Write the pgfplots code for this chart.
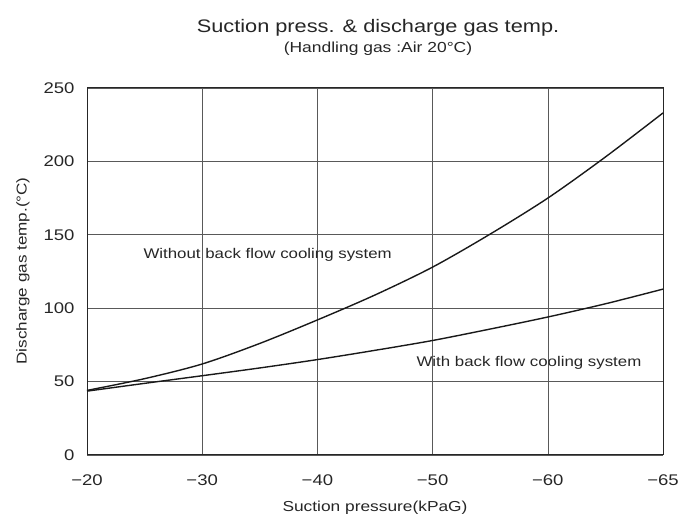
\documentclass[border=0pt]{standalone}
\usepackage{pgfplots}
\pgfplotsset{compat=1.18}
\usepackage{fontspec}
\setmainfont{Liberation Sans}[FakeStretch=1.2]
\begin{document}
\begin{tikzpicture}[x=1bp,y=1bp]
\begin{axis}[
  at={(0,0)}, anchor=south west,
  scale only axis, width=576bp, height=367bp,
  xmin=0, xmax=5, ymin=0, ymax=250,
  xtick={0,1,2,3,4,5},
  xticklabels={−20,−30,−40,−50,−60,−65},
  ytick={0,50,100,150,200,250},
  grid=major,
  major grid style={black!65, line width=0.6pt},
  major tick length=0pt,
  axis line style={black!85, line width=1pt},
  /pgf/number format/assume math mode=true,
  tick label style={font=\fontsize{15.5}{15.5}\selectfont, black!85},
  xticklabel style={yshift=-16bp},
  yticklabel style={xshift=-9bp},
  clip=false,
]
\addplot[black!90, line width=1.4pt, smooth] coordinates {
(0,44) (0.5,52) (1,62) (1.5,76) (2,92) (2.5,109) (3,128) (3.5,150.5) (4,175) (4.5,203) (5,233)
};
\addplot[black!90, line width=1.4pt, smooth] coordinates {
(0,43.5) (0.5,48.8) (1,54) (1.5,59.3) (2,65) (2.5,71.3) (3,78) (3.5,85.8) (4,94) (4.5,103) (5,113)
};
\node[anchor=west, black!85, font=\fontsize{14.1}{14.1}\selectfont] at (axis cs:0.46,136) {Without back flow cooling system};
\node[anchor=west, black!85, font=\fontsize{14.1}{14.1}\selectfont] at (axis cs:2.83,63) {With back flow cooling system};
\end{axis}
\node[black!85, font=\fontsize{18.2}{18.2}\selectfont] at (291,427) {Suction press. \& discharge gas temp.};
\node[black!85, font=\fontsize{14.6}{14.6}\selectfont] at (291,406) {(Handling gas :Air 20\textdegree C)};
\node[black!85, font=\fontsize{14.3}{14.3}\selectfont, rotate=90] at (-64,184) {Discharge gas temp.(\textdegree C)};
\node[black!85, font=\fontsize{14.5}{14.5}\selectfont] at (288,-53) {Suction pressure(kPaG)};
\path[use as bounding box] (-87,-64) rectangle (610,455);
\end{tikzpicture}
\end{document}
